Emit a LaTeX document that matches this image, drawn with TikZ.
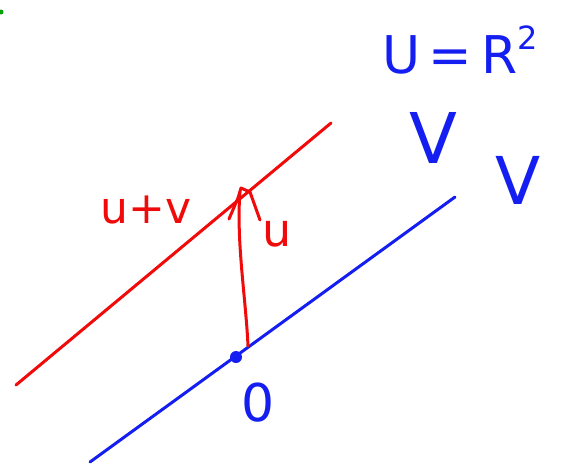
\documentclass[tikz,border=0pt]{standalone}
\usepackage{fontspec}
\setmainfont{DejaVu Sans}
\definecolor{pblue}{RGB}{20,30,240}
\definecolor{pred}{RGB}{240,10,10}
\definecolor{pgreen}{RGB}{10,160,10}
\begin{document}
\begin{tikzpicture}[x=1pt,y=-1pt,
  bstroke/.style={draw=pblue,line width=3pt,line cap=round,line join=round},
  rstroke/.style={draw=pred,line width=3pt,line cap=round,line join=round},
  btext/.style={text=pblue,inner sep=0pt},
  rtext/.style={text=pred,inner sep=0pt}]
\useasboundingbox (0,0) rectangle (567,464);
% lines
\coordinate (b1) at (90,462);
\coordinate (b2) at (455,197);
\draw[bstroke] (b1) -- (b2);
\coordinate (r1) at (16,385);
\coordinate (r2) at (331,123);
\draw[rstroke] (r1) -- (r2);
% arrow u
\coordinate (a0) at (248,346);
\coordinate (a1) at (240,192);
\draw[rstroke] (a0) .. controls (246,300) and (236,240) .. (a1);
\draw[rstroke] (229,219) -- (238,198) -- (241,188) -- (250,192) -- (260,220);
% origin dot
\fill[pblue] (236,357) circle (6pt);
\fill[pgreen] (1,12) circle (2.5pt);
% texts
\node[btext,font=\fontsize{52}{52}\selectfont] (eq) at (460,50) {U\,=\,R\raisebox{0.45em}{\fontsize{32}{32}\selectfont 2}};
\node[btext,font=\fontsize{70}{70}\selectfont] (V1) at (433,138) {V};
\node[btext,font=\fontsize{66}{66}\selectfont] (V2) at (518,180) {V};
\node[rtext,font=\fontsize{44}{44}\selectfont] (uv) at (146,210) {u+v};
\node[rtext,font=\fontsize{46}{46}\selectfont] (u) at (277,234) {u};
\node[btext,font=\fontsize{52}{52}\selectfont] (o) at (258,403) {0};
\end{tikzpicture}
\end{document}
